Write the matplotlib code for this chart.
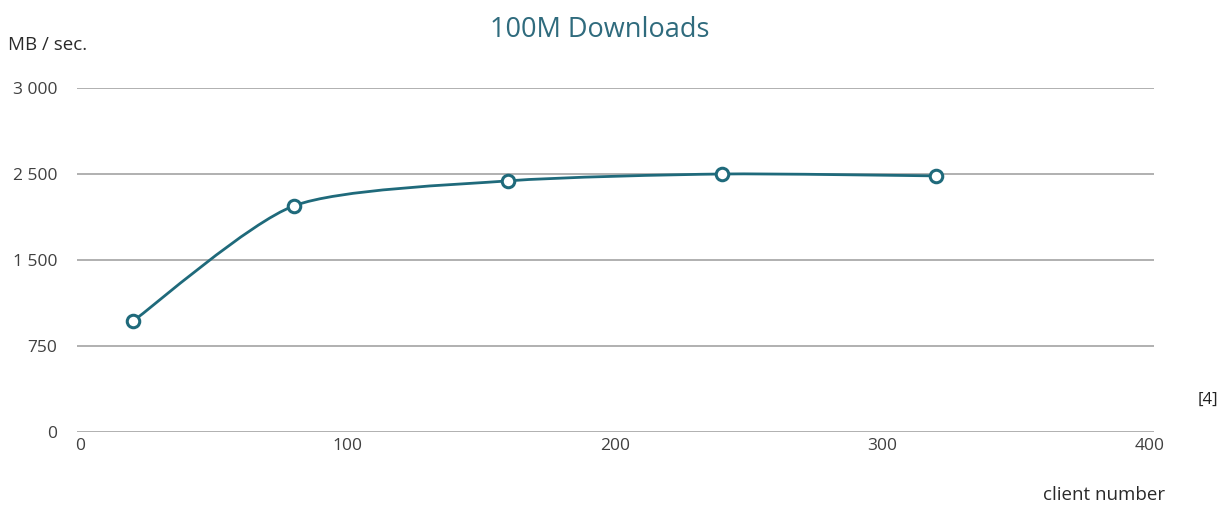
import numpy as np
import matplotlib
matplotlib.use("Agg")
import matplotlib.pyplot as plt
from matplotlib.path import Path
from matplotlib.patches import PathPatch
from matplotlib.transforms import Affine2D

# data
clients = [20, 80, 160, 240, 320]
mb_per_sec = [970, 2130, 2420, 2500, 2478]

# the y axis gridlines are equally spaced although the values are not
y_ticks = [0, 750, 1500, 2500, 3000]
y_tick_labels = ["0", "750", "1 500", "2 500", "3 000"]
x_ticks = [0, 100, 200, 300, 400]

teal = "#1f6a7b"
text_gray = "#404040"
grid_gray = "#b0b0b0"

y_pos = np.arange(len(y_ticks), dtype=float)


def forward(v):
    return np.interp(v, y_ticks, y_pos, left=-np.inf, right=np.inf)


def inverse(p):
    return np.interp(p, y_pos, y_ticks)


plt.rcParams["font.family"] = ["Open Sans", "DejaVu Sans"]

fig = plt.figure(figsize=(12.25, 5.09), dpi=100)
ax = fig.add_axes([77 / 1225, 1 - 432 / 509, (1154 - 77) / 1225, (432 - 88) / 509])
ax.set_yscale("function", functions=(forward, inverse))
x0, x1 = -1.1, 401.5
ax.set_xlim(x0, x1)
ax.set_ylim(0, 3000)

for s in ax.spines.values():
    s.set_visible(False)

ax.set_yticks(y_ticks)
ax.set_yticklabels(y_tick_labels)
ax.set_xticks(x_ticks)
ax.tick_params(axis="both", length=0, colors=text_gray, labelsize=12.5)
ax.tick_params(axis="y", pad=14)
ax.tick_params(axis="x", pad=4)
ax.yaxis.set_minor_locator(matplotlib.ticker.NullLocator())
ax.grid(axis="y", color=grid_gray, lw=1.4)
ax.set_axisbelow(True)

# smoothed line through the points (cardinal spline as cubic Bezier segments),
# built in the scaled y space so it bends like the original
tension = 0.12
px = np.array(clients, float)
py = forward(np.array(mb_per_sec, float))
verts = [(px[0], py[0])]
codes = [Path.MOVETO]
n = len(px)
for i in range(n - 1):
    p0 = i - 1 if i > 0 else i
    p3 = i + 2 if i + 2 < n else i + 1
    c1 = (px[i] + (px[i + 1] - px[p0]) * tension, py[i] + (py[i + 1] - py[p0]) * tension)
    c2 = (px[i + 1] - (px[p3] - px[i]) * tension, py[i + 1] - (py[p3] - py[i]) * tension)
    verts += [c1, c2, (px[i + 1], py[i + 1])]
    codes += [Path.CURVE4] * 3
to_axes = Affine2D().translate(-x0, 0).scale(1 / (x1 - x0), 1 / y_pos[-1])
ax.add_patch(PathPatch(Path(verts, codes), facecolor="none", edgecolor=teal,
                       lw=2.0, zorder=3, transform=to_axes + ax.transAxes))
ax.plot(clients, mb_per_sec, ls="none", marker="o", ms=9, mfc="white",
        mec=teal, mew=2.2, zorder=4)

fig.text(600 / 1225, 1 - 30 / 509, "100M Downloads", ha="center", va="center",
         fontsize=19.5, color="#2f6b7d")
fig.text(8 / 1225, 1 - 45 / 509, "MB / sec.", ha="left", va="center",
         fontsize=13.5, color="#2a2a2a")
fig.text(1165 / 1225, 1 - 495 / 509, "client number", ha="right", va="center",
         fontsize=13.5, color="#2a2a2a")
fig.text(1218 / 1225, 1 - 400 / 509, "[4]", ha="right", va="center",
         fontsize=12, color="#222222")

fig.savefig("out.png", dpi=100)
